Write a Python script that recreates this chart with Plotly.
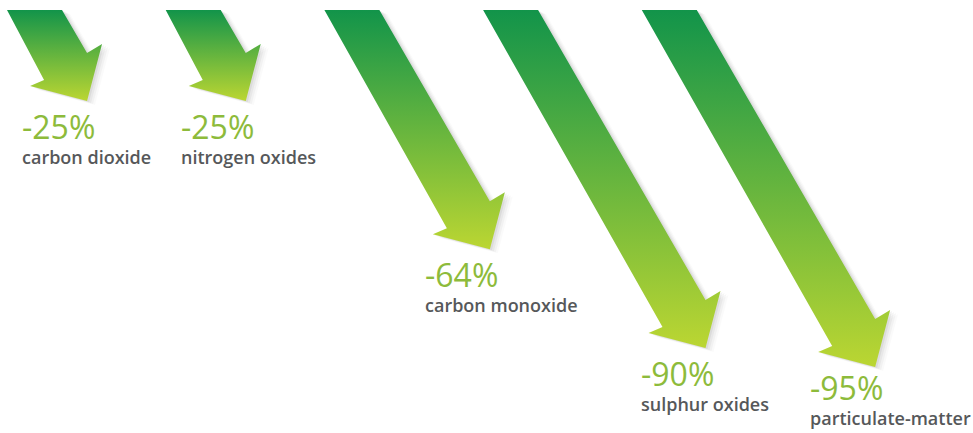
import plotly.graph_objects as go

# ---- data ----
pollutants = ["carbon dioxide", "nitrogen oxides", "carbon monoxide", "sulphur oxides", "particulate-matter"]
reductions = [25, 25, 64, 90, 95]          # percent reduction
pct_labels = ["-25%", "-25%", "-64%", "-90%", "-95%"]

# ---- style / layout constants ----
W, H = 973, 433
TOP_Y = 10
SHAFT_W = 55
X_START, X_STEP = 7, 158.7
DX_PER_PCT, DY_PER_PCT = 2.19, 3.8
C_TOP, C_BOT = "#12944a", "#bbd632"
PCT_COLOR = "#8dbb3b"
LBL_COLOR = "#56585a"
FONT = "Open Sans"


def arrow_poly(x0, v):
    tx = x0 + 25.3 + DX_PER_PCT * v
    ty = TOP_Y - 4 + DY_PER_PCT * v
    pts = [
        (x0, TOP_Y),
        (x0 + SHAFT_W, TOP_Y),
        (tx, ty - 48),
        (tx + 15, ty - 57),
        (tx, ty),
        (tx - 57, ty - 15),
        (tx - 43, ty - 21),
        (x0, TOP_Y),
    ]
    return [p[0] for p in pts], [p[1] for p in pts], tx, ty


fig = go.Figure()
annotations = []
for i, (name, v, pl) in enumerate(zip(pollutants, reductions, pct_labels)):
    x0 = X_START + i * X_STEP
    xs, ys, tx, ty = arrow_poly(x0, v)
    # soft shadow
    for k, (ox, oy, a) in enumerate([(2, 1, 0.05), (4, 2, 0.04), (6, 3, 0.03), (8, 4, 0.02)]):
        fig.add_trace(go.Scatter(
            x=[x + ox for x in xs], y=[y + oy for y in ys], mode="lines", fill="toself",
            fillcolor=f"rgba(0,0,0,{a})", line=dict(width=0), hoverinfo="skip", showlegend=False))
    fig.add_trace(go.Scatter(
        x=xs, y=ys, mode="lines", fill="toself", line=dict(width=0),
        fillgradient=dict(type="vertical", colorscale=[[0, C_BOT], [1, C_TOP]]),
        hoverinfo="skip", showlegend=False, name=name))
    lbl_bottom = min(ty + 70, H - 1)
    pct_bottom = lbl_bottom - 21
    annotations.append(dict(
        x=(tx - 67) / W, y=1 - pct_bottom / H, xref="paper", yref="paper", text=pl, showarrow=False,
        xanchor="left", yanchor="bottom", font=dict(family=FONT, size=32, color=PCT_COLOR)))
    annotations.append(dict(
        x=(tx - 67) / W, y=1 - lbl_bottom / H, xref="paper", yref="paper", text=name, showarrow=False,
        xanchor="left", yanchor="bottom", font=dict(family=FONT, size=18, color=LBL_COLOR, weight=600)))

fig.update_layout(
    width=W, height=H, margin=dict(l=0, r=0, t=0, b=0),
    paper_bgcolor="white", plot_bgcolor="white",
    xaxis=dict(range=[0, W], visible=False, fixedrange=True),
    yaxis=dict(range=[H, 0], visible=False, fixedrange=True),
    annotations=annotations,
)
fig.write_html("out.html")
